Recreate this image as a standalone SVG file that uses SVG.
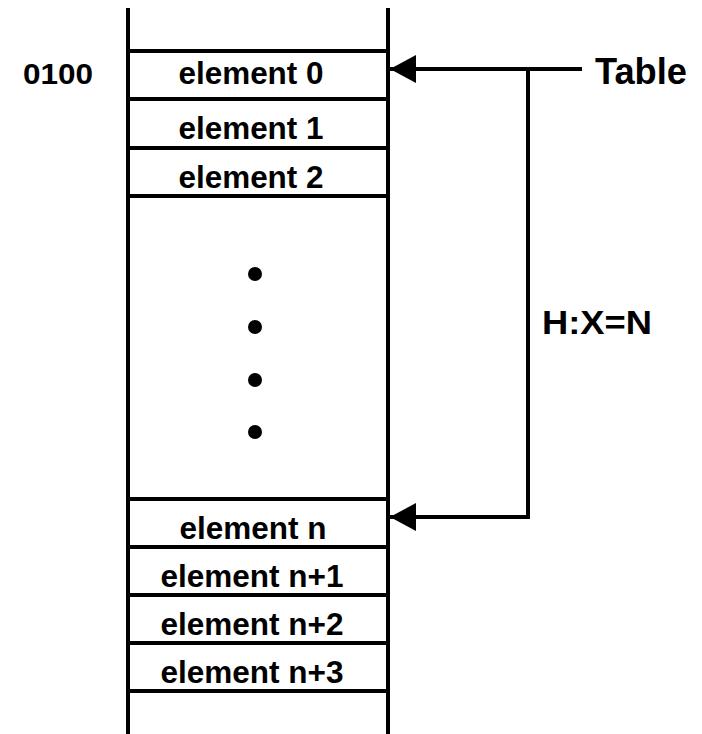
<svg xmlns="http://www.w3.org/2000/svg" width="702" height="734" viewBox="0 0 702 734">
  <style>
    .ln { stroke: #000; stroke-width: 4; fill: none; }
    .t { font-family: "Liberation Sans", Arial, sans-serif; font-weight: bold; fill: #000; }
    .el { font-size: 31px; text-anchor: middle; }
  </style>
  <defs>
    <marker id="head" markerUnits="userSpaceOnUse" markerWidth="28" markerHeight="30" refX="26" refY="14" orient="auto">
      <path d="M0,0 L26,14 L0,28 Z" fill="#000"/>
    </marker>
  </defs>
  <rect width="702" height="734" fill="#fff"/>

  <!-- memory column -->
  <g id="memory">
    <line class="ln" x1="128" y1="8" x2="128" y2="734"/>
    <line class="ln" x1="388" y1="8" x2="388" y2="734"/>
    <line class="ln" x1="128" y1="51" x2="388" y2="51"/>
    <line class="ln" x1="128" y1="99" x2="388" y2="99"/>
    <line class="ln" x1="128" y1="148" x2="388" y2="148"/>
    <line class="ln" x1="128" y1="196" x2="388" y2="196"/>
    <line class="ln" x1="128" y1="499" x2="388" y2="499"/>
    <line class="ln" x1="128" y1="547" x2="388" y2="547"/>
    <line class="ln" x1="128" y1="595" x2="388" y2="595"/>
    <line class="ln" x1="128" y1="643" x2="388" y2="643"/>
    <line class="ln" x1="128" y1="691" x2="388" y2="691"/>
  </g>

  <g id="addr"><text class="t" font-size="30" x="23" y="84" textLength="70" lengthAdjust="spacingAndGlyphs">0100</text></g>
  <g id="el0"><text class="t el" x="251" y="84" textLength="145" lengthAdjust="spacingAndGlyphs">element 0</text></g>
  <g id="el1"><text class="t el" x="251" y="139" textLength="145" lengthAdjust="spacingAndGlyphs">element 1</text></g>
  <g id="el2"><text class="t el" x="251" y="188" textLength="145" lengthAdjust="spacingAndGlyphs">element 2</text></g>

  <g id="gap">
    <circle cx="255" cy="274" r="7"/>
    <circle cx="255" cy="327" r="7"/>
    <circle cx="255" cy="380" r="7"/>
    <circle cx="255" cy="432" r="7"/>
  </g>

  <g id="eln"><text class="t el" x="253" y="539" textLength="147" lengthAdjust="spacingAndGlyphs">element n</text></g>
  <g id="eln1"><text class="t el" x="252" y="587" textLength="183" lengthAdjust="spacingAndGlyphs">element n+1</text></g>
  <g id="eln2"><text class="t el" x="252" y="635" textLength="183" lengthAdjust="spacingAndGlyphs">element n+2</text></g>
  <g id="eln3"><text class="t el" x="252" y="683" textLength="183" lengthAdjust="spacingAndGlyphs">element n+3</text></g>

  <g id="table"><text class="t" font-size="36" x="595" y="84" textLength="92" lengthAdjust="spacingAndGlyphs">Table</text></g>
  <g id="count"><text class="t" font-size="33" x="542" y="334" textLength="110" lengthAdjust="spacingAndGlyphs">H:X=N</text></g>

  <!-- pointers -->
  <g id="connectors">
    <line class="ln" x1="582" y1="69" x2="390" y2="69" marker-end="url(#head)"/>
    <polyline class="ln" points="528,69 528,517 390,517" marker-end="url(#head)"/>
  </g>
</svg>
